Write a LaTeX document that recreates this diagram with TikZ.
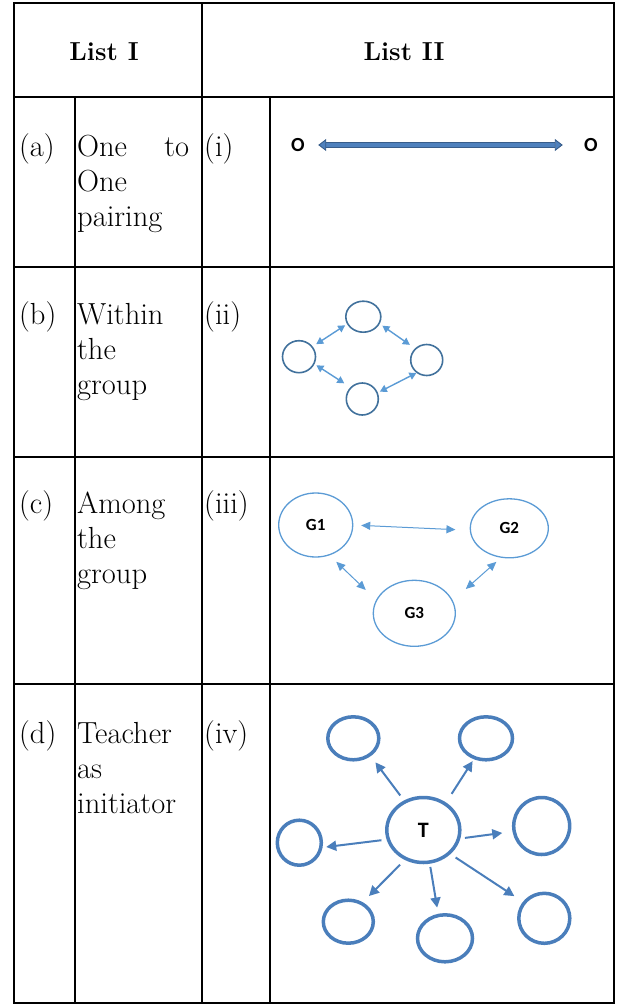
\documentclass[tikz,border=0pt]{standalone}
\usepackage{fontspec}
\newfontfamily\calfont{Carlito}
\usetikzlibrary{arrows.meta,shapes.geometric}
\definecolor{cOneDark}{RGB}{56,93,138}
\definecolor{cOneFill}{RGB}{79,129,189}
\definecolor{cTwoDark}{RGB}{65,113,156}
\definecolor{cTwoLight}{RGB}{91,155,213}
\definecolor{cThree}{RGB}{91,155,213}
\definecolor{cFour}{RGB}{74,126,187}
\tikzset{
  rule/.style={line width=2pt, black},
  head/.style={font=\bfseries\fontsize{26}{30}\selectfont, inner sep=0pt, anchor=base},
  body/.style={font=\fontsize{30.5}{35}\selectfont, inner sep=0pt, anchor=base west},
  olab/.style={font=\calfont\bfseries\fontsize{20}{20}\selectfont, inner sep=0pt, minimum width=14pt},
  dblarrow/.style={draw=cOneDark, double=cOneFill, double distance=3.5pt, line width=0.9pt,
    {Triangle[length=8pt,width=12pt,fill=cOneFill]}-{Triangle[length=8pt,width=12pt,fill=cOneFill]}},
  smallcirc/.style={ellipse, draw=cTwoDark, line width=1.6pt, inner sep=0pt, outer sep=0pt},
  arrtwo/.style={draw=cTwoLight, line width=1.4pt,
    {Triangle[length=7pt,width=7.5pt]}-{Triangle[length=7pt,width=7.5pt]}},
  grp/.style={ellipse, draw=cThree, line width=1.3pt, inner sep=0pt, outer sep=0pt,
    font=\calfont\bfseries\fontsize{17}{17}\selectfont},
  arrthree/.style={draw=cThree, line width=1pt,
    {Triangle[length=9pt,width=8pt]}-{Triangle[length=9pt,width=8pt]}},
  ring/.style={ellipse, draw=cFour, line width=3.5pt, inner sep=0pt, outer sep=0pt},
  arrfour/.style={draw=cFour, line width=2pt, -{Triangle[length=10pt,width=10pt]}}
}
\begin{document}
\begin{tikzpicture}[x=1pt,y=-1pt]
\useasboundingbox (0,0) rectangle (632,1006);
% table rules
\draw[rule] (14,3) rectangle (614,1003);
\draw[rule] (202,3) -- (202,1003);
\draw[rule] (75,97) -- (75,1003);
\draw[rule] (270,97) -- (270,1003);
\draw[rule] (14,97) -- (614,97);
\draw[rule] (14,266.5) -- (614,266.5);
\draw[rule] (14,456.5) -- (614,456.5);
\draw[rule] (14,683.5) -- (614,683.5);
% header
\node[head] (h1) at (104,61) {List I};
\node[head] (h2) at (404,61) {List II};
% row labels
\node[body] (la) at (19,157) {(a)};
\node[body] (lb) at (19,324) {(b)};
\node[body] (lc) at (19,513) {(c)};
\node[body] (ld) at (19,743) {(d)};
\node[body] (ri) at (204,157) {(i)};
\node[body] (rii) at (204,324) {(ii)};
\node[body] (riii) at (204,513) {(iii)};
\node[body] (riv) at (204,743) {(iv)};
% list I texts
\node[body] (ta) at (77,157) {\parbox[t]{113pt}{\makebox[112pt][s]{One to}\\One\\pairing}};
\node[body] (tb) at (77,324) {\parbox[t]{113pt}{Within\\the\\group}};
\node[body] (tc) at (77,513) {\parbox[t]{113pt}{Among\\the\\group}};
\node[body] (td) at (77,743) {\parbox[t]{113pt}{Teacher\\as\\initiator}};
% (i)
\node[olab] (o1) at (298,145) {O};
\node[olab] (o2) at (591,145) {O};
\draw[dblarrow, shorten <=13pt, shorten >=21pt] (o1) -- (o2);
% (ii)
\node[smallcirc, minimum width=35pt, minimum height=31pt] (ct) at (363.3,316.7) {};
\node[smallcirc, minimum width=33pt, minimum height=32pt] (cl) at (299,356.7) {};
\node[smallcirc, minimum width=32pt, minimum height=31pt] (cr) at (426.7,360) {};
\node[smallcirc, minimum width=32pt, minimum height=32pt] (cb) at (362.3,399) {};
\draw[arrtwo, shorten <=5pt, shorten >=3pt] (cl.37) -- (ct.204);
\draw[arrtwo, shorten <=4pt, shorten >=7pt] (ct.337) -- (cr.135);
\draw[arrtwo, shorten <=3pt, shorten >=8pt] (cl.-25) -- (cb.135);
\draw[arrtwo, shorten <=3pt, shorten >=1pt] (cb.22) -- (cr.233);
% (iii)
\node[grp, minimum width=74pt, minimum height=64pt] (g1) at (315.7,525) {G1};
\node[grp, minimum width=78pt, minimum height=59pt] (g2) at (509.3,528.3) {G2};
\node[grp, minimum width=82pt, minimum height=66pt] (g3) at (414.3,613.3) {G3};
\draw[arrthree, shorten <=8.5pt, shorten >=15pt] (g1.0) -- (g2.183);
\draw[arrthree, shorten <=10pt, shorten >=15pt] (g1.-66) -- (g3.161);
\draw[arrthree, shorten <=7pt, shorten >=18pt] (g2.255) -- (g3.18);
% (iv)
\node[ring, minimum width=73pt, minimum height=65pt, font=\calfont\bfseries\fontsize{22}{22}\selectfont] (t) at (423.3,830) {T};
\node[ring, minimum width=51pt, minimum height=43pt] (s1) at (353.3,738.3) {};
\node[ring, minimum width=53pt, minimum height=43pt] (s2) at (486,738.3) {};
\node[ring, minimum width=44pt, minimum height=45pt] (s3) at (299.3,842.7) {};
\node[ring, minimum width=56pt, minimum height=57pt] (s4) at (541.7,826) {};
\node[ring, minimum width=50pt, minimum height=43pt] (s5) at (348.3,921.7) {};
\node[ring, minimum width=55pt, minimum height=47pt] (s6) at (445,938.3) {};
\node[ring, minimum width=51pt, minimum height=50pt] (s7) at (544.3,918.3) {};
\draw[arrfour, shorten <=8pt, shorten >=9.5pt] (t.123) -- (s1.-45);
\draw[arrfour, shorten <=12pt, shorten >=4pt] (t.50) -- (s2.240);
\draw[arrfour, shorten <=7pt, shorten >=5.5pt] (t.195) -- (s3.-13);
\draw[arrfour, shorten <=6.5pt, shorten >=12pt] (t.-14) -- (s4.191);
\draw[arrfour, shorten <=8.5pt, shorten >=10.5pt] (t.239) -- (s5.54);
\draw[arrfour, shorten <=5pt, shorten >=8pt] (t.-79) -- (s6.106);
\draw[arrfour, shorten <=8pt, shorten >=12pt] (t.-42) -- (s7.142);
\end{tikzpicture}
\end{document}
